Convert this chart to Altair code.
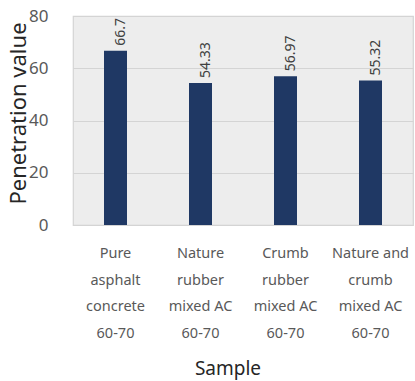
import altair as alt
import pandas as pd

samples = [
    "Pure|asphalt|concrete|60-70",
    "Nature|rubber|mixed AC|60-70",
    "Crumb|rubber|mixed AC|60-70",
    "Nature and|crumb|mixed AC|60-70",
]
values = [66.7, 54.33, 56.97, 55.32]
value_labels = ["66.7", "54.33", "56.97", "55.32"]
x_title = ["Sample"]

df = pd.DataFrame({"Sample": samples, "Value": values, "Label": value_labels})
df_title = pd.DataFrame({"t": x_title})

FONT = "Noto Sans"
GRID = "#d4d4d4"

x = alt.X(
    "Sample:N",
    sort=samples,
    scale=alt.Scale(paddingInner=0, paddingOuter=0),
    axis=None,
)

y = alt.Y(
    "Value:Q",
    scale=alt.Scale(domain=[0, 80]),
    axis=alt.Axis(
        title="Penetration value",
        values=[0, 20, 40, 60, 80],
        labelFont=FONT,
        labelFontSize=17,
        labelColor="#595959",
        labelPadding=25,
        ticks=False,
        domain=False,
        gridColor=GRID,
        gridWidth=1.2,
        titleFont=FONT,
        titleFontSize=22,
        titleFontWeight="normal",
        titleColor="#262626",
        titleX=-55,
        titleY=97,
        titleAngle=-90,
        titleBaseline="middle",
        titleAlign="center",
    ),
)

bars = alt.Chart(df).mark_bar(color="#1f3864", size=23).encode(x=x, y=y)

value_text = alt.Chart(df).mark_text(
    angle=270,
    align="left",
    baseline="middle",
    dx=5,
    dy=5,
    font=FONT,
    fontSize=14,
    color="#404040",
).encode(x=x, y=y, text="Label:N")

category_text = alt.Chart(df).mark_text(
    align="center",
    baseline="top",
    dy=22,
    lineBreak="|",
    lineHeight=26.5,
    font=FONT,
    fontSize=14.5,
    color="#595959",
).encode(x=x, y=alt.Y(datum=0), text="Sample:N")

title_text = alt.Chart(df_title).mark_text(
    align="center",
    baseline="middle",
    dy=144,
    font=FONT,
    fontSize=19,
    color="#262626",
).encode(x=alt.value(155), y=alt.Y(datum=0), text="t:N")

chart = (
    alt.layer(bars, value_text, category_text, title_text)
    .properties(
        width=340,
        height=209,
        autosize=alt.AutoSizeParams(type="none"),
        padding={"left": 73, "top": 16, "right": 2, "bottom": 156},
        background="white",
    )
    .configure_view(fill="#ededed", stroke=GRID, strokeWidth=1.2)
)

chart.save("out.html", embed_options={"renderer": "svg", "actions": False})
